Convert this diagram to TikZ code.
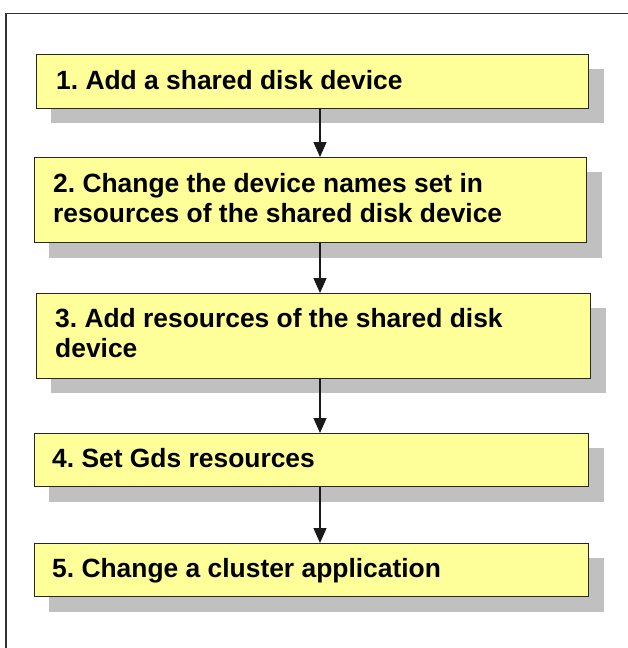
\documentclass[tikz,border=0pt]{standalone}
\usepackage{fontspec}
\setmainfont{Liberation Sans}
\usetikzlibrary{arrows.meta}
\definecolor{boxfill}{RGB}{255,255,153}
\definecolor{shadowgray}{RGB}{192,192,192}
\definecolor{framegray}{RGB}{50,50,50}
\tikzset{
  stepbox/.style={draw=black!85, line width=1.4pt, fill=boxfill, inner sep=0pt},
  steptext/.style={font=\bfseries\fontsize{26.4}{30}\selectfont, text=black, inner sep=0pt, align=left},
  flowarrow/.style={line width=1.4pt, draw=black!90, -{Triangle[length=15pt,width=13pt]}},
}
\frenchspacing
\begin{document}
\begin{tikzpicture}[x=1pt,y=-1pt]
\useasboundingbox (0,0) rectangle (627,648);
% outer frame (cropped at right and bottom)
\draw[framegray, line width=1.6pt] (6,660) -- (6,13.5) -- (640,13.5);
% shadows
\fill[shadowgray] (51,69) rectangle (604,123);
\fill[shadowgray] (49,172) rectangle (602,258);
\fill[shadowgray] (51,308) rectangle (606,393);
\fill[shadowgray] (49,448) rectangle (604,502);
\fill[shadowgray] (49,558) rectangle (604,612);
% boxes
\node[stepbox, minimum width=552pt, minimum height=54pt, anchor=north west] (b1) at (36,54) {};
\node[stepbox, minimum width=552pt, minimum height=85pt, anchor=north west] (b2) at (34,157) {};
\node[stepbox, minimum width=554pt, minimum height=85pt, anchor=north west] (b3) at (36,293) {};
\node[stepbox, minimum width=554pt, minimum height=53pt, anchor=north west] (b4) at (34,433) {};
\node[stepbox, minimum width=554pt, minimum height=53pt, anchor=north west] (b5) at (34,543) {};
% texts
\node[steptext, anchor=base west] (t1) at (56,89) {1. Add a shared disk device};
\node[steptext, anchor=base west] (t2a) at (53,192) {2. Change the device names set in};
\node[steptext, anchor=base west] (t2b) at (53,222) {resources of the shared disk device};
\node[steptext, anchor=base west] (t3a) at (55,327) {3. Add resources of the shared disk};
\node[steptext, anchor=base west] (t3b) at (55,357) {device};
\node[steptext, anchor=base west] (t4) at (52,467) {4. Set Gds resources};
\node[steptext, anchor=base west] (t5) at (52,577) {5. Change a cluster application};
% arrows
\coordinate (ax) at (320,0);
\draw[flowarrow] (b1.south -| ax) -- (b2.north -| ax);
\draw[flowarrow] (b2.south -| ax) -- (b3.north -| ax);
\draw[flowarrow] (b3.south -| ax) -- (b4.north -| ax);
\draw[flowarrow] (b4.south -| ax) -- (b5.north -| ax);
\end{tikzpicture}
\end{document}
